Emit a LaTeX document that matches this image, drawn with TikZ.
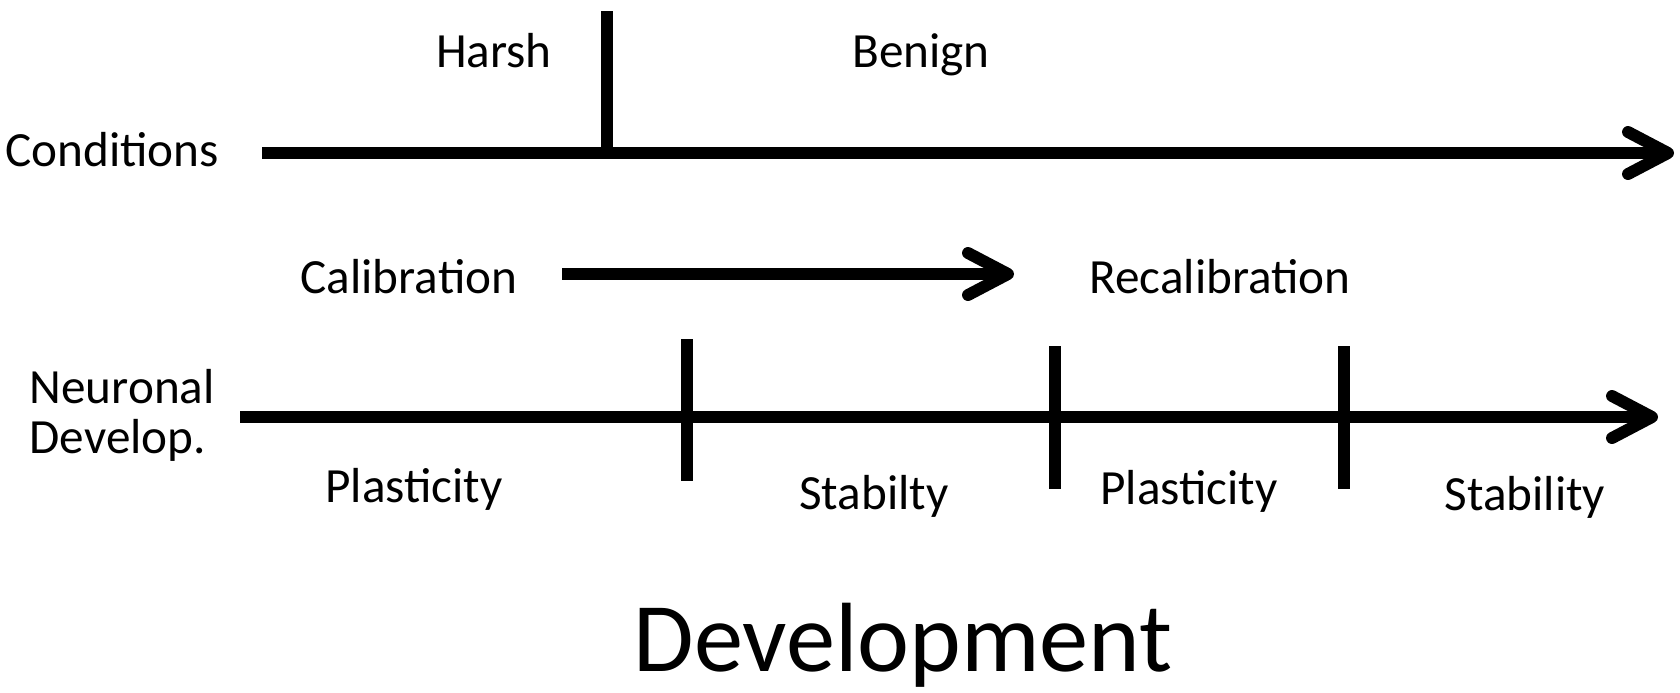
\documentclass[tikz,border=0pt]{standalone}
\usepackage{fontspec}
\setmainfont{Carlito}
\usetikzlibrary{arrows.meta}
\tikzset{
  axisline/.style={line width=3.4pt},
  axisarrow/.style={line width=3.4pt,-{Straight Barb[length=4mm,width=4.2mm,line cap=round,line join=round]}},
  tickline/.style={line width=3.2pt}
}
\begin{document}
\begin{tikzpicture}[every node/.style={font=\fontsize{14}{14.2}\selectfont,inner sep=0pt}]
  \useasboundingbox (0,0) rectangle (16.8,6.92);
  % conditions axis
  \node[anchor=base] (cond) at (1.12,5.26) {Conditions};
  \coordinate (condL) at (2.62,5.39);
  \coordinate (condR) at (16.74,5.39);
  \coordinate (harshT) at (6.07,6.81);
  \coordinate (harshB) at (6.07,5.39);
  \draw[axisarrow] (condL) -- (condR);
  \draw[tickline] (harshT) -- (harshB);
  \node[anchor=base] (harsh) at (4.94,6.245) {Harsh};
  \node[anchor=base] (benign) at (9.21,6.245) {Benign};
  % calibration
  \node[anchor=base] (calib) at (4.09,3.99) {Calibration};
  \coordinate (calibL) at (5.62,4.18);
  \coordinate (calibR) at (10.14,4.18);
  \draw[axisarrow] (calibL) -- (calibR);
  \node[anchor=base] (recalib) at (12.20,3.99) {Recalibration};
  % neuronal development axis
  \node[anchor=base west,align=left] (neuro) at (0.29,2.39) {Neuronal\\Develop.};
  \coordinate (neuroL) at (2.40,2.75);
  \coordinate (neuroR) at (16.58,2.75);
  \draw[axisarrow] (neuroL) -- (neuroR);
  \coordinate (tickAT) at (6.87,3.53);
  \coordinate (tickAB) at (6.87,2.11);
  \coordinate (tickBT) at (10.55,3.46);
  \coordinate (tickBB) at (10.55,2.03);
  \coordinate (tickCT) at (13.44,3.46);
  \coordinate (tickCB) at (13.44,2.03);
  \draw[tickline] (tickAT) -- (tickAB);
  \draw[tickline] (tickBT) -- (tickBB);
  \draw[tickline] (tickCT) -- (tickCB);
  \node[anchor=base] (plastA) at (4.14,1.90) {Plasticity};
  \node[anchor=base] (stabA) at (8.74,1.83) {Stabilty};
  \node[anchor=base] (plastB) at (11.89,1.88) {Plasticity};
  \node[anchor=base] (stabB) at (15.25,1.82) {Stability};
  \node[anchor=base,font=\fontsize{28}{30}\selectfont] (devel) at (9.03,0.21) {Development};
\end{tikzpicture}
\end{document}
